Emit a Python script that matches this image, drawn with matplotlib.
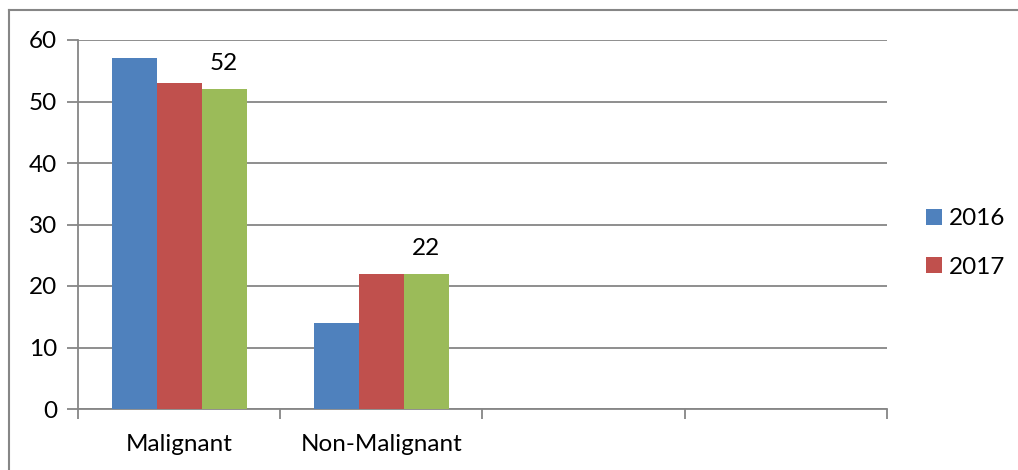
import matplotlib
matplotlib.use("Agg")
import matplotlib.pyplot as plt
from matplotlib.lines import Line2D
from matplotlib.patches import Patch
import numpy as np

plt.rcParams['font.family'] = ['Lato', 'DejaVu Sans']

categories = ["Malignant", "Non-Malignant", "", ""]
series_names = ["2016", "2017", "Series3"]
values_2016 = [57, 14]
values_2017 = [53, 22]
values_series3 = [52, 22]
colors = ["#4F81BD", "#C0504D", "#9BBB59"]

W, H = 1018, 470
FS = 17.5
fig = plt.figure(figsize=(W / 100, H / 100), dpi=100)
ax = fig.add_axes([78 / W, 1 - 409 / H, (887 - 78) / W, (409 - 40) / H])

ncat = len(categories)
x = np.arange(2)
bw = 0.2225
for i, (vals, c) in enumerate(zip([values_2016, values_2017, values_series3], colors)):
    ax.bar(x + (i - 1) * bw, vals, width=bw, color=c, zorder=3)

# value labels on the third series
for xi, v in zip(x, values_series3):
    ax.text(xi + bw, v + 2.4, f"{v}", ha="center", va="bottom", fontsize=FS, color="black")

ax.set_xlim(-0.5, ncat - 0.5)
ax.set_ylim(0, 60)
ax.set_yticks(range(0, 61, 10))
ax.set_xticks(np.arange(ncat))
ax.set_xticklabels(categories, fontsize=FS)
ax.set_xticks(np.arange(ncat + 1) - 0.5, minor=True)
ax.tick_params(axis="x", which="major", length=0, pad=18)
ax.tick_params(axis="x", which="minor", length=7, width=1.3, color="#868686")
ax.tick_params(axis="y", length=8, width=1.3, color="#868686", labelsize=FS, pad=7)

ax.yaxis.grid(True, color="#868686", linewidth=1.3, zorder=0)
for s in ["top", "right"]:
    ax.spines[s].set_visible(False)
for s in ["left", "bottom"]:
    ax.spines[s].set_color("#868686")
    ax.spines[s].set_linewidth(1.3)

handles = [Patch(facecolor=colors[0]), Patch(facecolor=colors[1])]
leg = fig.legend(handles, series_names[:2], loc="center left",
                 bbox_to_anchor=(904 / W, 1 - 243 / H), frameon=False,
                 fontsize=FS, handlelength=0.68, handleheight=0.68,
                 handletextpad=0.28, labelspacing=1.12)

# outer chart border
fig.add_artist(Line2D([9 / W, 9 / W], [0, 1 - 10 / H], color="#868686", linewidth=1.5))
fig.add_artist(Line2D([9 / W, 1], [1 - 10 / H, 1 - 10 / H], color="#868686", linewidth=1.5))

fig.savefig("out.png", dpi=100)
